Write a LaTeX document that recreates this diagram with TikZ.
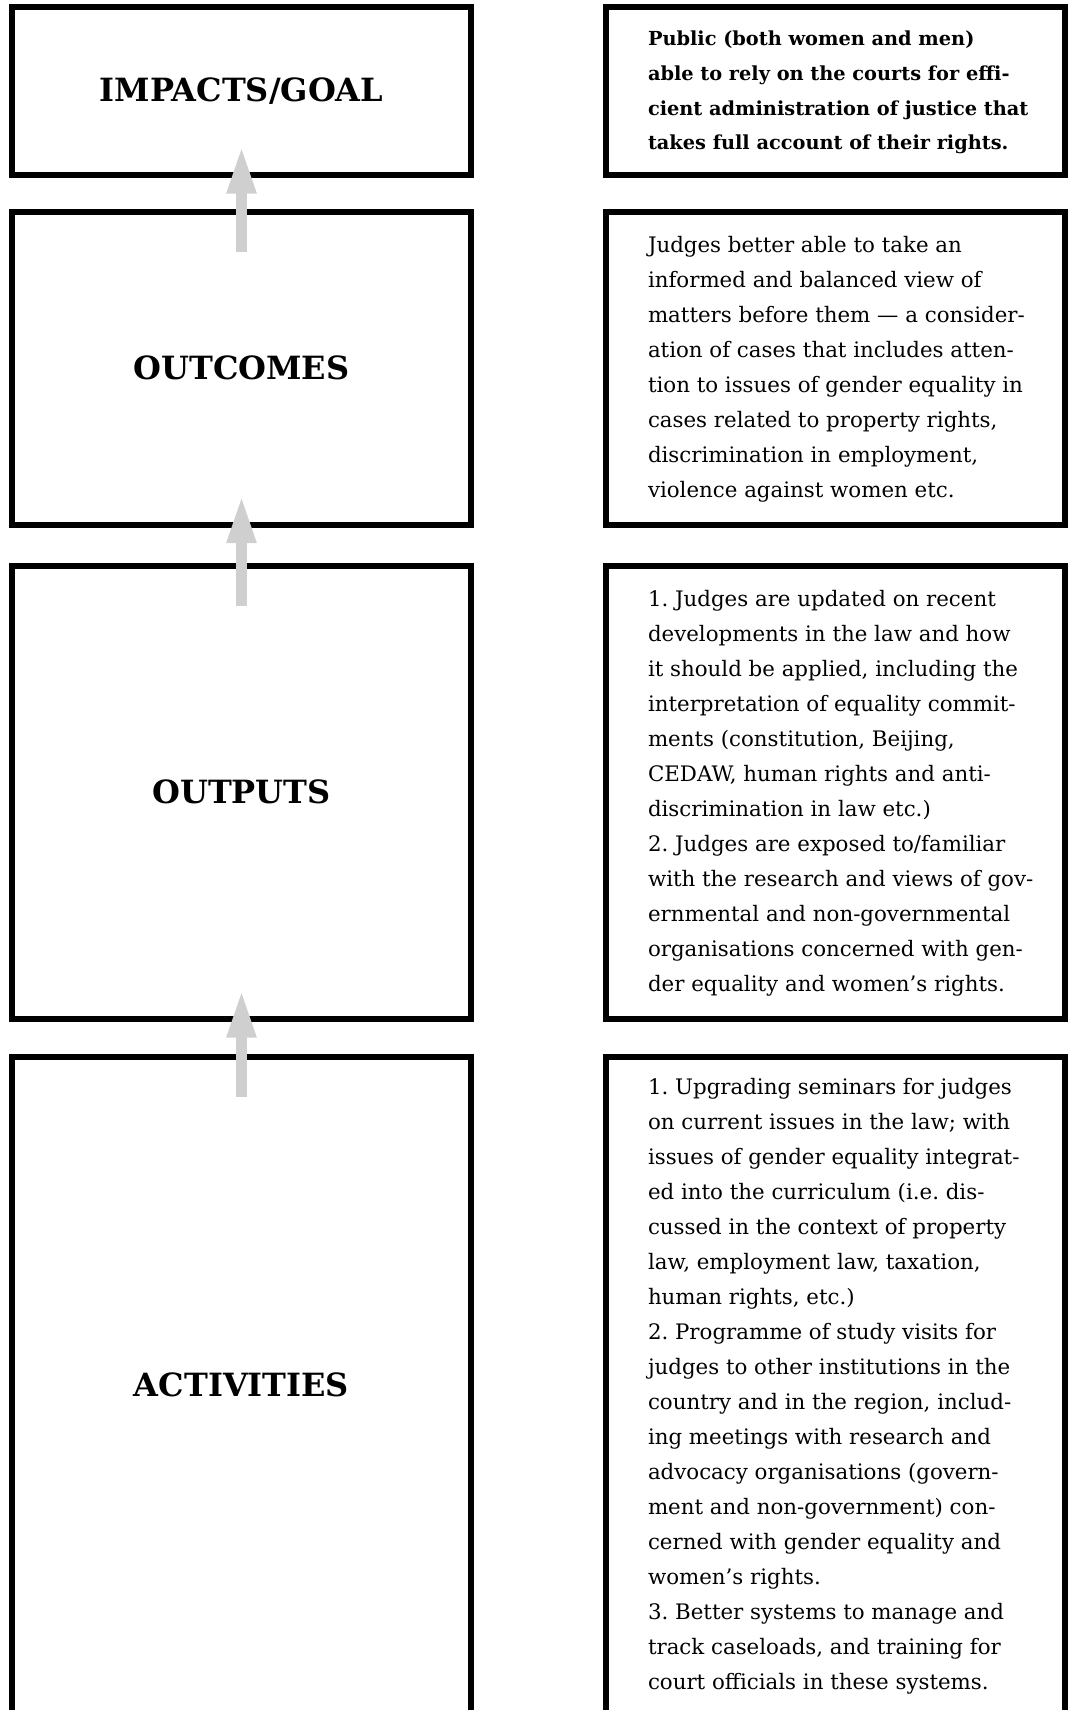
\documentclass[tikz,border=0pt]{standalone}
\usepackage{fontspec}
\setmainfont{DejaVu Serif}
\usetikzlibrary{arrows.meta}
\definecolor{cccccc}{rgb}{0.81,0.81,0.81}
\frenchspacing
% lines of a text block, flush left in a column of fixed width
\newcommand\textlines[1]{\makebox[280.5pt][l]{\begin{tabular}{@{}l@{}}#1\end{tabular}}}

\begin{document}
\begin{tikzpicture}[line join=miter,x=0.75pt,y=-0.75pt,
  box/.style={draw=black,line width=4.5pt,outer sep=0pt,inner sep=0pt,minimum width=344.25pt},
  stage/.style={box,font=\fontsize{24pt}{30pt}\selectfont\bfseries},
  detail/.style={box,font=\fontsize{16pt}{26.25pt}\selectfont},
  uparrow/.style={draw=cccccc,line width=8.25pt,-{Triangle[width=20.25pt,length=36pt]}}]
\useasboundingbox (0,0) rectangle (1068,1710);
\clip (0,0) rectangle (1068,1710);
% left column
\node[stage,minimum height=126pt] (impact) at (241.5,91) {IMPACTS/GOAL};
\node[stage,minimum height=234.375pt] (outcome) at (241.5,368.25) {OUTCOMES};
\node[stage,minimum height=340.125pt] (output) at (241.5,792.25) {OUTPUTS};
\node[stage,minimum height=493.125pt] (activity) at (241.5,1385.25) {ACTIVITIES};
% right column
\node[detail,minimum height=126pt,font=\fontsize{14.5pt}{26pt}\selectfont\bfseries] (impacttxt) at (835,91) {\textlines{Public (both women and men)\\
able to rely on the courts for effi-\\
cient administration of justice that\\
takes full account of their rights.}};
\node[detail,minimum height=234.375pt] (outcometxt) at (835,368.25) {\textlines{Judges better able to take an\\
informed and balanced view of\\
matters before them — a consider-\\
ation of cases that includes atten-\\
tion to issues of gender equality in\\
cases related to property rights,\\
discrimination in employment,\\
violence against women etc.}};
\node[detail,minimum height=340.125pt] (outputtxt) at (835,792.25) {\textlines{1. Judges are updated on recent\\
developments in the law and how\\
it should be applied, including the\\
interpretation of equality commit-\\
ments (constitution, Beijing,\\
CEDAW, human rights and anti-\\
discrimination in law etc.)\\
2. Judges are exposed to/familiar\\
with the research and views of gov-\\
ernmental and non-governmental\\
organisations concerned with gen-\\
der equality and women’s rights.}};
\node[detail,minimum height=493.125pt] (activitytxt) at (835,1385.25) {\textlines{1. Upgrading seminars for judges\\
on current issues in the law; with\\
issues of gender equality integrat-\\
ed into the curriculum (i.e. dis-\\
cussed in the context of property\\
law, employment law, taxation,\\
human rights, etc.)\\
2. Programme of study visits for\\
judges to other institutions in the\\
country and in the region, includ-\\
ing meetings with research and\\
advocacy organisations (govern-\\
ment and non-government) con-\\
cerned with gender equality and\\
women’s rights.\\
3. Better systems to manage and\\
track caseloads, and training for\\
court officials in these systems.}};
% arrows between the stages
\foreach \lo/\hi in {outcome/impact,output/outcome,activity/output}
\draw[uparrow] ([yshift=-30pt]\lo.north) -- ([yshift=22pt]\hi.south);
\end{tikzpicture}
\end{document}
